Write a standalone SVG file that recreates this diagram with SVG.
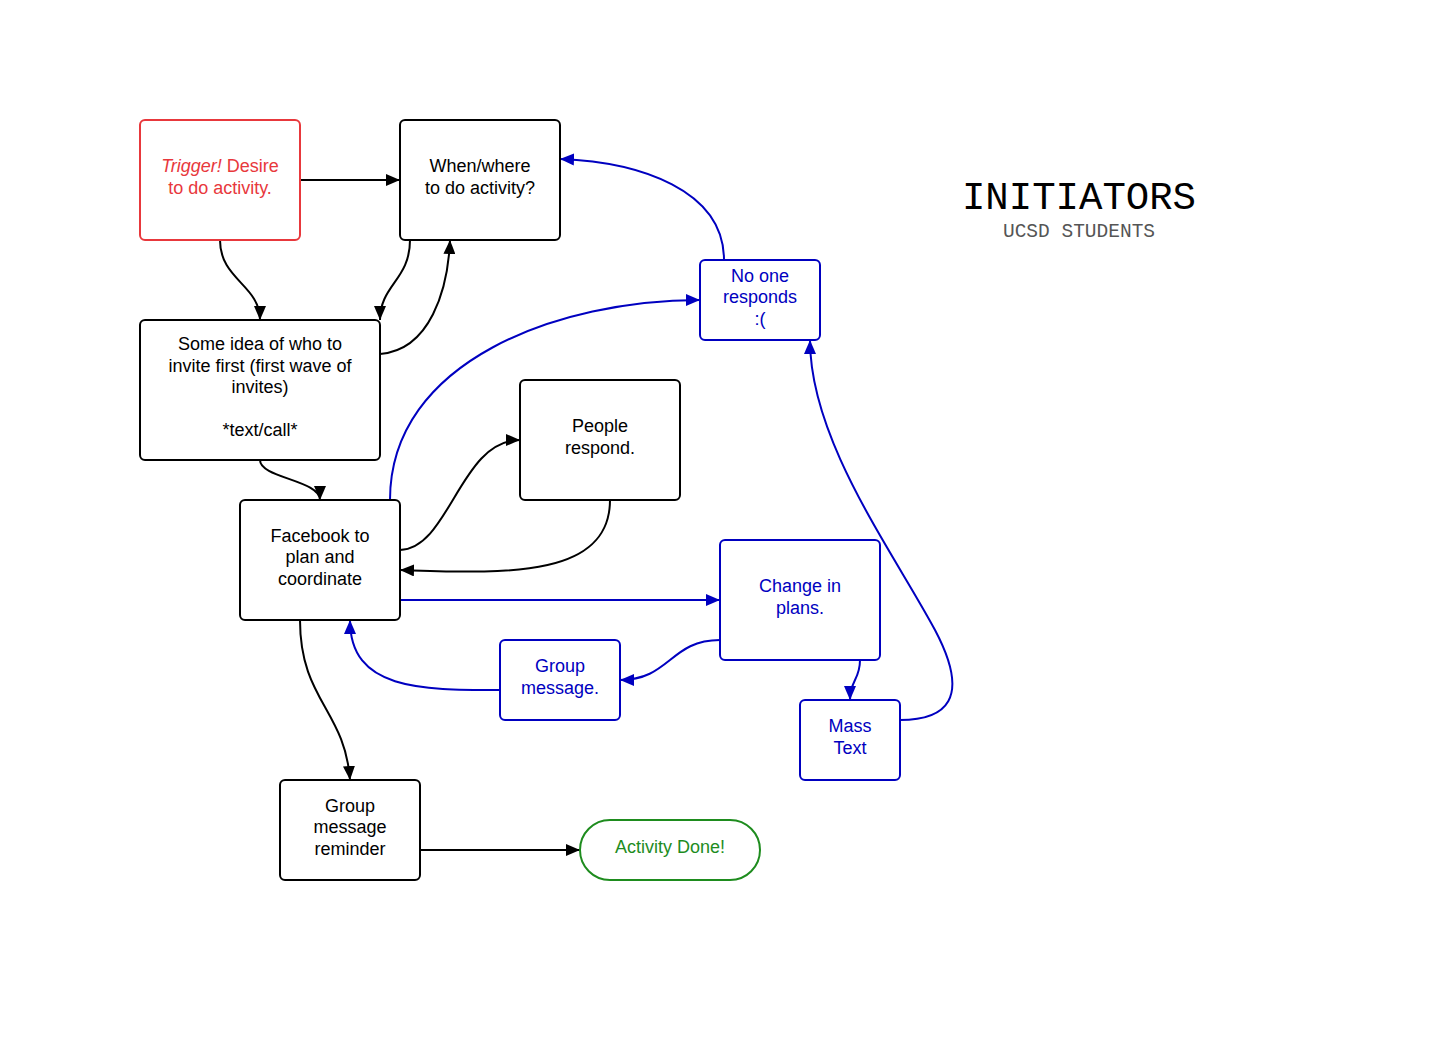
<svg xmlns="http://www.w3.org/2000/svg" width="1434" height="1063" viewBox="0 0 1434 1063">
<style>
.n rect{fill:#fff;stroke-width:2}
.k rect{stroke:#000}
.b rect{stroke:#0000c0}
.r rect{stroke:#e8383c}
.g rect{stroke:#1e8c1e}
text{font-family:"Liberation Sans",Arial,sans-serif;font-size:18px;text-anchor:middle}
.k text{fill:#000}
.b text{fill:#0000c0}
.r text{fill:#e8383c}
.g text{fill:#1e8c1e}
.c path{fill:none;stroke-width:2}
.ck path{stroke:#000}
.cb path{stroke:#0000c0}
text.t1{font-family:"Liberation Mono","DejaVu Sans Mono",monospace;font-size:39px;fill:#000}
text.t2{font-family:"Liberation Mono","DejaVu Sans Mono",monospace;font-size:19.5px;fill:#555}
</style>
<defs>
<marker id="ak" markerUnits="userSpaceOnUse" markerWidth="16" markerHeight="12" refX="14" refY="6" orient="auto"><path d="M0,0 L14,6 L0,12 Z" fill="#000"/></marker>
<marker id="ab" markerUnits="userSpaceOnUse" markerWidth="16" markerHeight="12" refX="14" refY="6" orient="auto"><path d="M0,0 L14,6 L0,12 Z" fill="#0000c0"/></marker>
</defs>
<rect width="1434" height="1063" fill="#fff"/>
<g id="connectors" class="c">
<g class="ck">
<path d="M300,180 L400,180" marker-end="url(#ak)"/>
<path d="M220,240 C220,280 260,285 260,320" marker-end="url(#ak)"/>
<path d="M410,240 C410,280 380,285 380,320" marker-end="url(#ak)"/>
<path d="M380,354 C430,350 448,290 450,240" marker-end="url(#ak)"/>
<path d="M260,460 C260,478 320,480 320,500" marker-end="url(#ak)"/>
<path d="M400,550 C450,548 460,440 520,440" marker-end="url(#ak)"/>
<path d="M610,500 C610,580 500,573 400,570" marker-end="url(#ak)"/>
<path d="M300,620 C300,700 345,710 350,780" marker-end="url(#ak)"/>
<path d="M420,850 L580,850" marker-end="url(#ak)"/>
</g>
<g class="cb">
<path d="M400,600 L720,600" marker-end="url(#ab)"/>
<path d="M390,500 C390,360 560,300 700,300" marker-end="url(#ab)"/>
<path d="M724,260 C724,190 640,162 560,159" marker-end="url(#ab)"/>
<path d="M720,640 C670,640 670,680 620,680" marker-end="url(#ab)"/>
<path d="M500,690 C420,690 350,690 350,620" marker-end="url(#ab)"/>
<path d="M860,660 C860,680 850,680 850,700" marker-end="url(#ab)"/>
<path d="M900,720 C945,720 972,700 935,630 C892,550 810,440 810,340" marker-end="url(#ab)"/>
</g>
</g>
<g id="trigger" class="n r"><rect x="140" y="120" width="160" height="120" rx="5"/><text x="220" y="172"><tspan font-style="italic">Trigger!</tspan> Desire</text><text x="220" y="194">to do activity.</text></g>
<g id="whenwhere" class="n k"><rect x="400" y="120" width="160" height="120" rx="5"/><text x="480" y="172">When/where</text><text x="480" y="194">to do activity?</text></g>
<g id="someidea" class="n k"><rect x="140" y="320" width="240" height="140" rx="5"/><text x="260" y="350">Some idea of who to</text><text x="260" y="372">invite first (first wave of</text><text x="260" y="393">invites)</text><text x="260" y="436">*text/call*</text></g>
<g id="facebook" class="n k"><rect x="240" y="500" width="160" height="120" rx="5"/><text x="320" y="542">Facebook to</text><text x="320" y="563">plan and</text><text x="320" y="585">coordinate</text></g>
<g id="peoplerespond" class="n k"><rect x="520" y="380" width="160" height="120" rx="5"/><text x="600" y="432">People</text><text x="600" y="454">respond.</text></g>
<g id="noone" class="n b"><rect x="700" y="260" width="120" height="80" rx="5"/><text x="760" y="282">No one</text><text x="760" y="303">responds</text><text x="760" y="325">:(</text></g>
<g id="change" class="n b"><rect x="720" y="540" width="160" height="120" rx="5"/><text x="800" y="592">Change in</text><text x="800" y="614">plans.</text></g>
<g id="groupmsg" class="n b"><rect x="500" y="640" width="120" height="80" rx="5"/><text x="560" y="672">Group</text><text x="560" y="694">message.</text></g>
<g id="masstext" class="n b"><rect x="800" y="700" width="100" height="80" rx="5"/><text x="850" y="732">Mass</text><text x="850" y="754">Text</text></g>
<g id="reminder" class="n k"><rect x="280" y="780" width="140" height="100" rx="5"/><text x="350" y="812">Group</text><text x="350" y="833">message</text><text x="350" y="855">reminder</text></g>
<g id="done" class="n g"><rect x="580" y="820" width="180" height="60" rx="30"/><text x="670" y="853">Activity Done!</text></g>
<g id="title">
<text class="t1" x="1079" y="209">INITIATORS</text>
<text class="t2" x="1079" y="237">UCSD STUDENTS</text>
</g>
</svg>
